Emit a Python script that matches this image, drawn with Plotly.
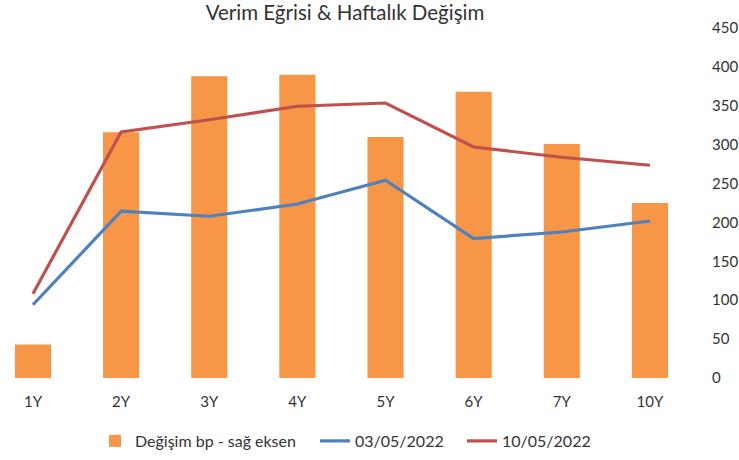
import plotly.graph_objects as go

categories = ["1Y", "2Y", "3Y", "4Y", "5Y", "6Y", "7Y", "10Y"]
change_bp = [43, 316, 388, 390, 310, 368, 301, 225]
yield_0305 = [2.93, 6.67, 6.47, 6.96, 7.91, 5.58, 5.84, 6.28]
yield_1005 = [3.37, 9.84, 10.33, 10.87, 11.00, 9.24, 8.83, 8.51]
right_ticks = [0, 50, 100, 150, 200, 250, 300, 350, 400, 450]

FONT = "Lato, Calibri, 'Open Sans', sans-serif"
TXT = "#333333"

fig = go.Figure()
fig.add_trace(go.Bar(
    x=categories, y=change_bp, name="Değişim bp - sağ eksen",
    marker=dict(color="#F79646", line=dict(width=0)),
    width=0.41, yaxis="y", legend="legend",
))
fig.add_trace(go.Scatter(
    x=categories, y=yield_0305, name="03/05/2022", mode="lines",
    line=dict(color="#4F81BD", width=3.2), yaxis="y2", legend="legend2",
))
fig.add_trace(go.Scatter(
    x=categories, y=yield_1005, name="10/05/2022", mode="lines",
    line=dict(color="#C0504D", width=3.2), yaxis="y2", legend="legend3",
))

leg_common = dict(orientation="h", xanchor="left", y=-0.18, yanchor="middle",
                  font=dict(size=16, color=TXT), itemwidth=30,
                  bgcolor="rgba(0,0,0,0)")

fig.update_layout(
    width=739, height=460,
    margin=dict(l=0, r=45, t=28, b=82, autoexpand=False),
    paper_bgcolor="white", plot_bgcolor="white",
    font=dict(family=FONT, size=15, color=TXT),
    title=dict(text="Verim Eğrisi & Haftalık Değişim", x=345 / 739, xanchor="center",
               y=1 - 13 / 460, yanchor="middle", yref="container",
               font=dict(family=FONT, size=20.5, color=TXT)),
    xaxis=dict(type="category", range=[-0.374, 7.5], showgrid=False, showline=False,
               zeroline=False, ticks="outside", ticklen=10, tickcolor="rgba(0,0,0,0)",
               tickfont=dict(size=15, color=TXT), automargin=False),
    yaxis=dict(side="right", range=[0, 450], tickvals=right_ticks, showgrid=False,
               zeroline=False, showline=False, ticks="outside", ticklen=14,
               tickcolor="rgba(0,0,0,0)", tickfont=dict(size=15, color=TXT), automargin=False),
    yaxis2=dict(overlaying="y", range=[0, 14], visible=False),
    showlegend=True,
    legend=dict(x=95 / 694, **leg_common),
    legend2=dict(x=315 / 694, **leg_common),
    legend3=dict(x=462 / 694, **leg_common),
    bargap=0.59,
)

fig.write_html("out.html", config={"displayModeBar": False},
               post_script="document.body.style.margin='0';")
